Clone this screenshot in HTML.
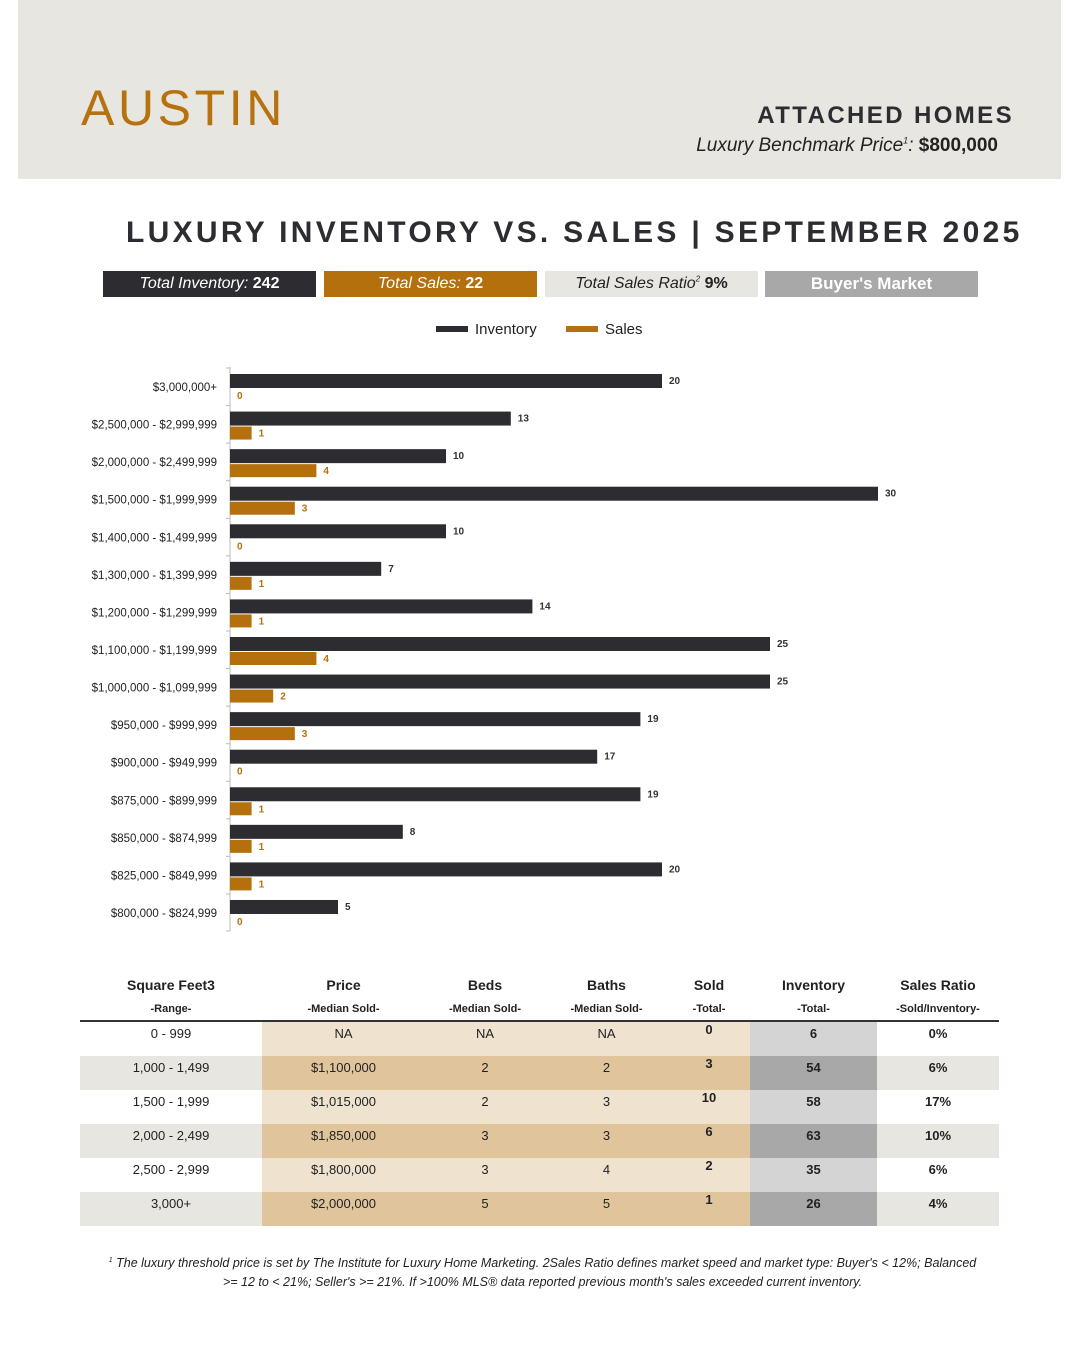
<!DOCTYPE html>
<html><head><meta charset="utf-8"><style>
body{margin:0;width:1080px;height:1350px;background:#fff;font-family:"Liberation Sans",sans-serif;position:relative;overflow:hidden}
.abs{position:absolute}
.box{position:absolute;top:271px;height:26px;width:213px;font-size:16px;text-align:center;line-height:26px;font-style:italic}
table{position:absolute;left:80px;top:970px;width:919px;border-collapse:collapse;font-size:13px}
td,th{text-align:center;padding:0;height:34px;color:#222}
td{vertical-align:top;padding-top:4px;height:30px}
th{font-size:14px;height:50px;vertical-align:top;line-height:22px;padding-top:4px;height:46px}
th small{font-size:11px}
.g td{background:#e8e6e1}
td.t{background:#efe3cf}.g td.t{background:#e0c59c}
td.i{background:#d4d4d4;font-weight:bold}.g td.i{background:#a8a8a8}
td.b{font-weight:bold}
td.s{padding-top:0;height:34px}
</style></head><body>
<div class="abs" style="left:18px;top:0;width:1043px;height:179px;background:#e8e6e1"></div>
<div class="abs" style="left:81px;top:78px;font-size:50px;color:#b5720f;letter-spacing:3.6px;line-height:60px">AUSTIN</div>
<div class="abs" style="right:66px;top:102px;font-size:24px;font-weight:bold;letter-spacing:2.4px;color:#2d2d31">ATTACHED HOMES</div>
<div class="abs" style="right:82px;top:135px;font-size:19px;color:#222"><i>Luxury Benchmark Price<sup style="font-size:9px">1</sup>: </i><b>$800,000</b></div>
<div class="abs" style="left:126px;top:216px;width:900px;font-size:30px;font-weight:bold;letter-spacing:3.3px;color:#2d2d31;white-space:nowrap">LUXURY INVENTORY VS. SALES | SEPTEMBER 2025</div>
<div class="box" style="left:103px;background:#2d2d31;color:#fff">Total Inventory: <b style="font-style:normal">242</b></div>
<div class="box" style="left:324px;background:#b3700c;color:#fff">Total Sales: <b style="font-style:normal">22</b></div>
<div class="box" style="left:545px;background:#e8e6e1;color:#222">Total Sales Ratio<sup style="font-size:8px;line-height:0">2</sup> <b style="font-style:normal">9%</b></div>
<div class="box" style="left:765px;background:#a8a8a8;color:#fff;font-style:normal;font-weight:bold;font-size:17px">Buyer's Market</div>
<svg class="abs" style="left:0;top:0" width="1080" height="960" id="chart">
<g font-size="15" fill="#222">
<rect x="436" y="326" width="32" height="6" fill="#2d2d31"/><text x="475" y="334">Inventory</text>
<rect x="566" y="326" width="32" height="6" fill="#b3700c"/><text x="605" y="334">Sales</text>
</g>
</svg>
<script>
const categories=["$3,000,000+","$2,500,000 - $2,999,999","$2,000,000 - $2,499,999","$1,500,000 - $1,999,999","$1,400,000 - $1,499,999","$1,300,000 - $1,399,999","$1,200,000 - $1,299,999","$1,100,000 - $1,199,999","$1,000,000 - $1,099,999","$950,000 - $999,999","$900,000 - $949,999","$875,000 - $899,999","$850,000 - $874,999","$825,000 - $849,999","$800,000 - $824,999"];
const inventory=[20,13,10,30,10,7,14,25,25,19,17,19,8,20,5];
const sales=[0,1,4,3,0,1,1,4,2,3,0,1,1,1,0];
const svg=document.getElementById('chart');const NS='http://www.w3.org/2000/svg';
const x=v=>230+v*21.6;const y=i=>387+i*37.57;
function mk(t,a,p){const e=document.createElementNS(NS,t);for(const k in a)e.setAttribute(k,a[k]);(p||svg).appendChild(e);return e;}
const ax=mk('line',{x1:230,x2:230,y1:367,y2:931,stroke:'#bbb'});


categories.forEach((c,i)=>{
 const cy=y(i);
 mk('line',{x1:226,x2:230,y1:cy-19,y2:cy-19,stroke:'#bbb'});
 if(i==categories.length-1)mk('line',{x1:226,x2:230,y1:cy+18,y2:cy+18,stroke:'#bbb'});
 const t=mk('text',{x:217,y:cy+4,'text-anchor':'end','font-size':11.5,fill:'#222'});t.textContent=c;
 
 
 const b=mk('rect',{x:230,y:cy-13,width:x(inventory[i])-230,height:14,fill:'#2d2d31'});
 
 
 const s=mk('rect',{x:230,y:cy+2,width:x(sales[i])-230,height:13,fill:'#b3700c'});
 
 
 const l1=mk('text',{x:x(inventory[i])+7,y:cy-3,'font-size':10,'font-weight':'bold',fill:'#333'});l1.textContent=inventory[i];
 
 
 const l2=mk('text',{x:x(sales[i])+7,y:cy+12,'font-size':10,'font-weight':'bold',fill:'#b3700c'});l2.textContent=sales[i];
 
 
});
</script>
<table>
<tr style="border-bottom:2px solid #333"><th style="width:182px">Square Feet3<br><small>-Range-</small></th><th style="width:163px">Price<br><small>-Median Sold-</small></th><th style="width:120px">Beds<br><small>-Median Sold-</small></th><th style="width:123px">Baths<br><small>-Median Sold-</small></th><th style="width:82px">Sold<br><small>-Total-</small></th><th style="width:127px">Inventory<br><small>-Total-</small></th><th>Sales Ratio<br><small>-Sold/Inventory-</small></th></tr>
<tr><td>0 - 999</td><td class="t">NA</td><td class="t">NA</td><td class="t">NA</td><td class="t b s">0</td><td class="i">6</td><td class="b">0%</td></tr>
<tr class="g"><td>1,000 - 1,499</td><td class="t">$1,100,000</td><td class="t">2</td><td class="t">2</td><td class="t b s">3</td><td class="i">54</td><td class="b">6%</td></tr>
<tr><td>1,500 - 1,999</td><td class="t">$1,015,000</td><td class="t">2</td><td class="t">3</td><td class="t b s">10</td><td class="i">58</td><td class="b">17%</td></tr>
<tr class="g"><td>2,000 - 2,499</td><td class="t">$1,850,000</td><td class="t">3</td><td class="t">3</td><td class="t b s">6</td><td class="i">63</td><td class="b">10%</td></tr>
<tr><td>2,500 - 2,999</td><td class="t">$1,800,000</td><td class="t">3</td><td class="t">4</td><td class="t b s">2</td><td class="i">35</td><td class="b">6%</td></tr>
<tr class="g"><td>3,000+</td><td class="t">$2,000,000</td><td class="t">5</td><td class="t">5</td><td class="t b s">1</td><td class="i">26</td><td class="b">4%</td></tr>
</table>
<div class="abs" style="left:105px;top:1251px;width:875px;text-align:center;font-size:12.5px;font-style:italic;color:#222;line-height:19px"><sup style="font-size:7px">1</sup> The luxury threshold price is set by The Institute for Luxury Home Marketing. 2Sales Ratio defines market speed and market type: Buyer's &lt; 12%; Balanced &gt;= 12 to &lt; 21%; Seller's &gt;= 21%. If &gt;100% MLS® data reported previous month's sales exceeded current inventory.</div>
</body></html>
